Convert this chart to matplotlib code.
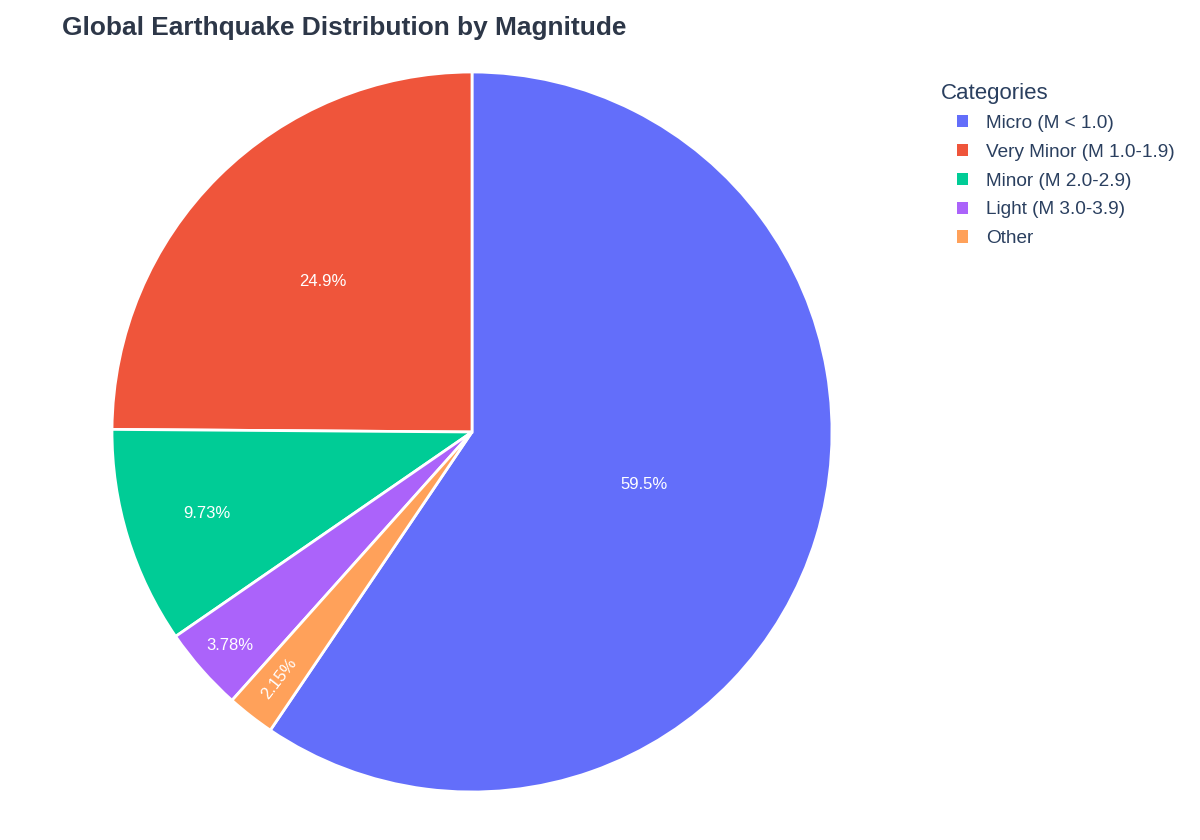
import numpy as np
import matplotlib.pyplot as plt
from matplotlib.patches import Patch

plt.rcParams['font.family'] = ['Liberation Sans', 'DejaVu Sans']

# 数据
categories = ["Micro (M < 1.0)", "Very Minor (M 1.0-1.9)", "Minor (M 2.0-2.9)",
              "Light (M 3.0-3.9)", "Other"]
shares = [59.5, 24.9, 9.73, 3.78, 2.15]
pct_labels = ["59.5%", "24.9%", "9.73%", "3.78%", "2.15%"]
colors = ["#636EFA", "#EF553B", "#00CC96", "#AB63FA", "#FFA15A"]

# 标签离圆心的距离（按半径比例）
label_dist = [0.50, 0.59, 0.77, 0.895, 0.87]

text_color = "#2a3f5f"
fig = plt.figure(figsize=(12, 8.4), dpi=100)
ax = fig.add_axes([112 / 1200, 48 / 840, 720 / 1200, 720 / 840])

total = sum(shares)
start = 90 - 360 * shares[0] / total
wedges, _ = ax.pie(shares, colors=colors, startangle=start, counterclock=True,
                   radius=1, wedgeprops=dict(edgecolor="white", linewidth=2))
ax.set_xlim(-1, 1)
ax.set_ylim(-1, 1)
ax.set_aspect("equal")
ax.axis("off")

# 百分比标签
for w, lab, d in zip(wedges, pct_labels, label_dist):
    mid = np.deg2rad((w.theta1 + w.theta2) / 2)
    rot = 0
    if lab == "2.15%":
        rot = np.rad2deg(mid) - 180
    ax.text(d * np.cos(mid), d * np.sin(mid), lab, ha="center", va="center",
            color="white", fontsize=12, rotation=rot, rotation_mode="anchor")

fig.text(62 / 1200, 1 - 28 / 840, "Global Earthquake Distribution by Magnitude",
         fontsize=18.9, fontweight="bold", color="#2d3748", va="center", ha="left")

# 图例
fig.text(941 / 1200, 1 - 93 / 840, "Categories", fontsize=16, color=text_color,
         va="center", ha="left")
handles = [Patch(facecolor=c, edgecolor="none") for c in colors]
leg = fig.legend(handles, categories, loc="upper left",
                 bbox_to_anchor=(957 / 1200, 1 - 115 / 840), frameon=False,
                 fontsize=13.7, handlelength=0.6, handleheight=0.6,
                 handletextpad=0.95, labelspacing=0.62, borderaxespad=0,
                 borderpad=0)
for t in leg.get_texts():
    t.set_color(text_color)

fig.savefig("out.png", dpi=100, facecolor="white")
